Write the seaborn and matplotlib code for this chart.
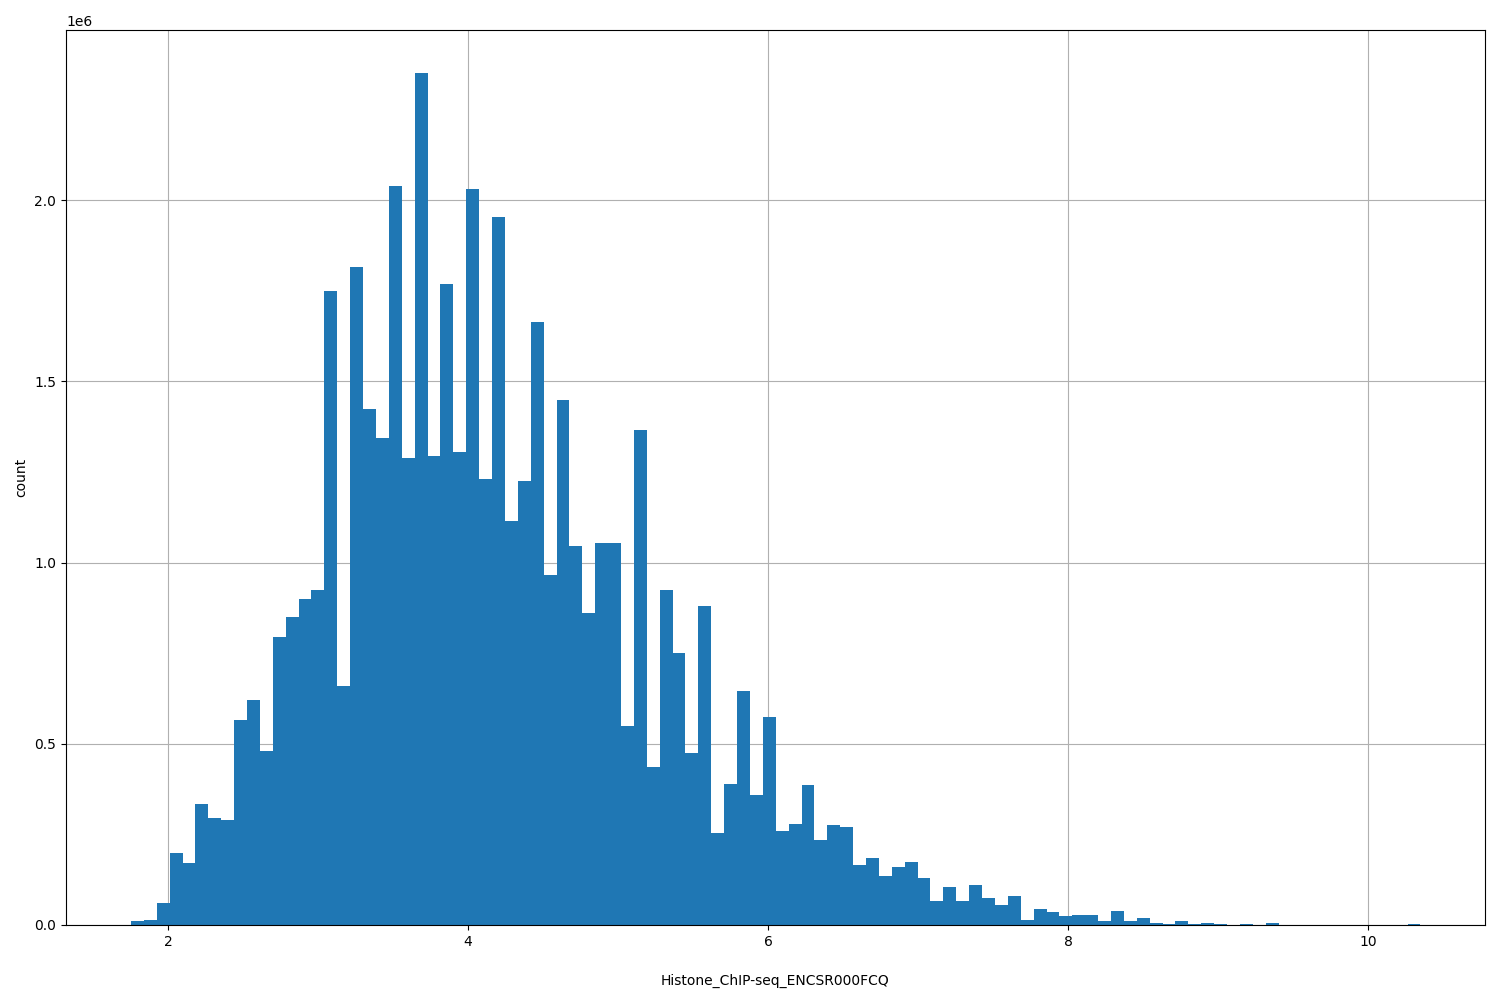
import numpy as np
import pandas as pd
import seaborn as sns
import matplotlib
matplotlib.use("Agg")
import matplotlib.pyplot as plt

# histogram range and bar heights (millions)
x_min, x_max, n_bins = 1.753, 10.35, 100
counts_m = [0.01, 0.015, 0.06, 0.2, 0.17, 0.335, 0.295, 0.29, 0.565, 0.62,
            0.48, 0.795, 0.85, 0.9, 0.925, 1.75, 0.66, 1.815, 1.425, 1.345,
            2.04, 1.29, 2.35, 1.295, 1.77, 1.305, 2.03, 1.23, 1.955, 1.115,
            1.225, 1.665, 0.965, 1.45, 1.045, 0.86, 1.055, 1.055, 0.55, 1.365,
            0.435, 0.925, 0.75, 0.475, 0.88, 0.255, 0.39, 0.645, 0.36, 0.575,
            0.26, 0.28, 0.385, 0.235, 0.275, 0.27, 0.165, 0.185, 0.135, 0.16,
            0.175, 0.13, 0.065, 0.105, 0.065, 0.11, 0.075, 0.055, 0.08, 0.015,
            0.045, 0.035, 0.025, 0.028, 0.028, 0.012, 0.04, 0.012, 0.02, 0.005,
            0.002, 0.012, 0.004, 0.006, 0.003, 0.001, 0.003, 0.001, 0.006, 0.0,
            0.0, 0.0, 0.0, 0.0, 0.0, 0.0, 0.0, 0.0, 0.0, 0.003]

edges = np.linspace(x_min, x_max, n_bins + 1)
df = pd.DataFrame({"Histone_ChIP-seq_ENCSR000FCQ": (edges[:-1] + edges[1:]) / 2,
                   "w": np.array(counts_m) * 1e6})

fig, ax = plt.subplots(figsize=(15, 10), dpi=100)
sns.histplot(data=df, x="Histone_ChIP-seq_ENCSR000FCQ", weights="w",
             bins=n_bins, binrange=(x_min, x_max),
             color="#1f77b4", alpha=1, edgecolor="none", linewidth=0, ax=ax)
ax.set_axisbelow(True)
ax.grid(True, color="#b0b0b0", linewidth=0.8)
ax.set_ylabel("count")
ax.set_xlabel("Histone_ChIP-seq_ENCSR000FCQ", labelpad=18)
ax.set_xlim(1.32, 10.78)
ax.set_ylim(0, 2.47e6)
fig.subplots_adjust(left=0.044, right=0.99, top=0.97, bottom=0.075)
fig.savefig("out.png")
